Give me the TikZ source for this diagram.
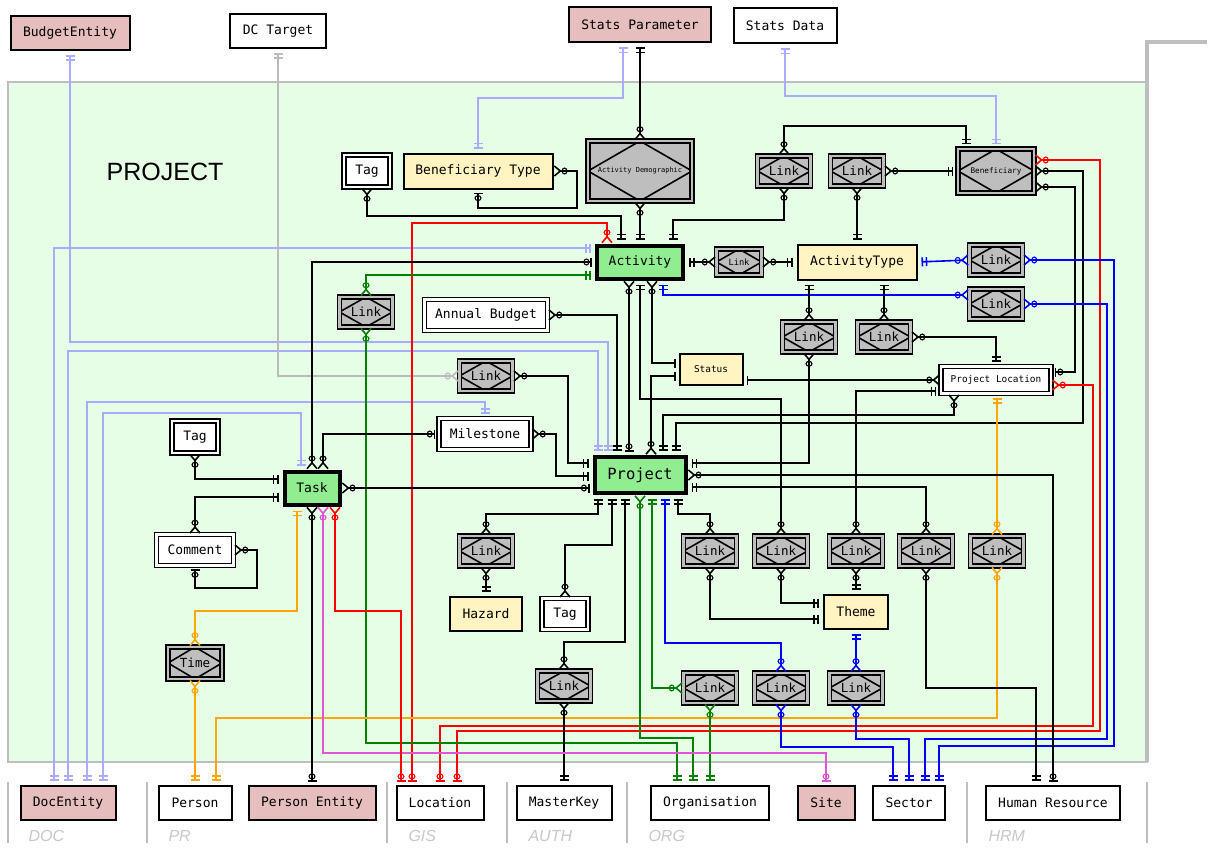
\documentclass[tikz,border=0pt]{standalone}
\usepackage{fontspec}
\setmonofont{DejaVu Sans Mono}
\setsansfont{Liberation Sans}
\usetikzlibrary{arrows.meta, positioning}

\definecolor{framefill}{HTML}{E6FDE6}
\definecolor{framegray}{HTML}{BEBEBE}
\definecolor{pinkfill}{HTML}{E6BEBE}
\definecolor{yellowfill}{HTML}{FFF4C2}
\definecolor{corefill}{HTML}{90EE90}
\definecolor{relgray}{HTML}{BEBEBE}
\definecolor{lavender}{HTML}{AAAAFF}
\definecolor{lightline}{HTML}{BBBBBB}
\definecolor{orangeline}{HTML}{FFA500}
\definecolor{magline}{HTML}{E055D5}
\definecolor{greenline}{HTML}{008000}
\definecolor{labelgray}{HTML}{C8C8C8}

% crow's foot ends: one = ||, sone = |, zone = o|, many = o<
\tikzset{
    oneone/.style={arrows={{Bar[width=9pt,sep=0pt]Bar[width=9pt,sep=2.6pt]}-{Bar[width=9pt,sep=2.6pt]Bar[width=9pt,sep=0pt]}},
        shorten <=4pt, shorten >=4pt},
    onemany/.style={arrows={{Bar[width=9pt,sep=0pt]Bar[width=9pt,sep=2.6pt]}-{Circle[open,length=6pt,width=7pt,line width=1.1pt,sep=0pt]Straight Barb[reversed,length=6pt,width=10pt,sep=0pt]}},
        shorten <=4pt},
    manyone/.style={arrows={{Straight Barb[reversed,length=6pt,width=10pt,sep=0pt]Circle[open,length=6pt,width=7pt,line width=1.1pt,sep=0pt]}-{Bar[width=9pt,sep=2.6pt]Bar[width=9pt,sep=0pt]}},
        shorten >=4pt},
    manyzone/.style={arrows={{Straight Barb[reversed,length=6pt,width=10pt,sep=0pt]Circle[open,length=6pt,width=7pt,line width=1.1pt,sep=0pt]}-{Circle[open,length=6pt,width=7pt,line width=1.1pt,sep=1pt]Bar[width=9pt,sep=0pt]}},
        shorten >=3pt},
    zonemany/.style={arrows={{Bar[width=9pt,sep=0pt]Circle[open,length=6pt,width=7pt,line width=1.1pt,sep=1pt]}-{Circle[open,length=6pt,width=7pt,line width=1.1pt,sep=0pt]Straight Barb[reversed,length=6pt,width=10pt,sep=0pt]}},
        shorten <=3pt},
    manysone/.style={arrows={{Straight Barb[reversed,length=6pt,width=10pt,sep=0pt]Circle[open,length=6pt,width=7pt,line width=1.1pt,sep=0pt]}-{Bar[width=9pt,sep=0pt]}},
        shorten >=3pt},
    sonemany/.style={arrows={{Bar[width=9pt,sep=0pt]}-{Circle[open,length=6pt,width=7pt,line width=1.1pt,sep=0pt]Straight Barb[reversed,length=6pt,width=10pt,sep=0pt]}},
        shorten <=3pt}
}

\begin{document}
\begin{tikzpicture}[x=1pt, y=-1pt,
    ent/.style={draw, line width=2pt, fill=white, minimum height=34pt, inner xsep=4pt, font=\ttfamily\fontsize{13}{15}\selectfont},
    ext/.style={ent, fill=pinkfill},
    lookup/.style={ent, fill=yellowfill},
    core/.style={ent, line width=4pt, fill=corefill},
    weak/.style={ent, line width=1.4pt, double=white, double distance=2.6pt},
    rel/.style={draw, line width=1.4pt, double=relgray, double distance=2.6pt, fill=relgray,
        minimum width=53pt, minimum height=30pt, inner sep=0pt, font=\ttfamily\fontsize{12.5}{14}\selectfont,
        path picture={\draw[line width=1.6pt, fill=relgray] (path picture bounding box.north) -- (path picture bounding box.east)
            -- (path picture bounding box.south) -- (path picture bounding box.west) -- cycle;}},
    grp/.style={anchor=west, text=labelgray, font=\sffamily\itshape\fontsize{16}{18}\selectfont},
    con/.style={line width=1.6pt},
    lav/.style={con, draw=lavender},
    dcl/.style={con, draw=lightline},
    redl/.style={con, draw=red},
    grn/.style={con, draw=greenline},
    blu/.style={con, draw=blue},
    orl/.style={con, draw=orangeline},
    magl/.style={con, draw=magline}
]
\useasboundingbox (0,0) rectangle (1215,851);

% project frame
\draw[framegray, line width=2pt, fill=framefill] (8,82) rectangle (1147,762);
\draw[framegray, line width=4pt] (1207,42) -- (1147,42) -- (1147,762);
\node[font=\sffamily\fontsize{25}{30}\selectfont] (title) at (165,172) {PROJECT};

% module separators
\foreach \sx in {8,147,387,507,627,967,1147}
    \draw[framegray, line width=2pt] (\sx,782) -- (\sx,843);
\node[grp] (gdoc) at (25,836) {DOC};
\node[grp] (gpr) at (165,836) {PR};
\node[grp] (ggis) at (405,836) {GIS};
\node[grp] (gauth) at (525,836) {AUTH};
\node[grp] (gorg) at (645,836) {ORG};
\node[grp] (ghrm) at (985,836) {HRM};

% outside entities
\node[ext, minimum width=119pt] (budget) at (70,33) {BudgetEntity};
\node[ent, minimum width=96pt] (dctarget) at (278,31) {DC Target};
\node[ext, minimum width=142pt, minimum height=35pt] (statspar) at (640,25) {Stats Parameter};
\node[ent, minimum width=103pt, minimum height=35pt] (statsdata) at (785,26) {Stats Data};

\node[ext, minimum width=95pt] (docent) at (68,803) {DocEntity};
\node[ent, minimum width=73pt] (person) at (195,803) {Person};
\node[ext, minimum width=127pt] (personent) at (312,803) {Person Entity};
\node[ent, minimum width=87pt] (location) at (440,803) {Location};
\node[ent, minimum width=95pt] (masterkey) at (564,803) {MasterKey};
\node[ent, minimum width=118pt] (org) at (710,803) {Organisation};
\node[ext, minimum width=57pt] (site) at (826,803) {Site};
\node[ent, minimum width=72pt] (sector) at (909,803) {Sector};
\node[ent, minimum width=134pt] (hr) at (1053,803) {Human Resource};

% project entities
\node[weak, minimum width=46pt, minimum height=32pt] (tagA) at (367,171) {Tag};
\node[lookup, minimum width=149pt, minimum height=35pt] (bentype) at (478,171) {Beneficiary Type};
\node[rel, minimum width=104pt, minimum height=60pt, font=\ttfamily\fontsize{7}{8}\selectfont] (actdemo) at (640,171) {Activity Demographic};
\node[rel] (linkA1) at (784,171) {Link};
\node[rel] (linkA2) at (857,171) {Link};
\node[rel, minimum width=76pt, minimum height=44pt, font=\ttfamily\fontsize{7.7}{9}\selectfont] (benef) at (996,171) {Beneficiary};

\node[core, minimum width=86pt, minimum height=33pt] (act) at (640,262) {Activity};
\node[rel, minimum width=45pt, minimum height=26pt, font=\ttfamily\fontsize{8.7}{10}\selectfont] (linkS) at (739,262) {Link};
\node[lookup, minimum width=119pt, minimum height=35pt] (acttype) at (857,262) {ActivityType};
\node[rel] (linkB1) at (996,260) {Link};
\node[rel] (linkB2) at (996,304) {Link};

\node[rel] (linkG) at (366,312) {Link};
\node[weak, minimum width=123pt, minimum height=31pt] (annual) at (486,315) {Annual Budget};
\node[rel] (linkC1) at (809,337) {Link};
\node[rel] (linkC2) at (884,337) {Link};
\node[lookup, minimum width=63pt, minimum height=31pt, font=\ttfamily\fontsize{9.4}{11}\selectfont] (status) at (711,369) {Status};
\node[rel] (linkDC) at (486,376) {Link};
\node[weak, minimum width=110pt, minimum height=27pt, font=\ttfamily\fontsize{9.4}{11}\selectfont] (ploc) at (996,380) {Project Location};

\node[weak, minimum width=46pt, minimum height=32pt] (tagB) at (195,437) {Tag};
\node[weak, minimum width=92pt, minimum height=31pt] (milestone) at (485,434) {Milestone};
\node[core, minimum width=55pt, minimum height=33pt] (task) at (312,488) {Task};
\node[core, minimum width=91pt, minimum height=36pt, font=\ttfamily\fontsize{15.5}{18}\selectfont] (proj) at (640,475) {Project};
\node[weak, minimum width=77pt, minimum height=31pt] (comment) at (195,550) {Comment};

\node[rel] (linkH) at (486,551) {Link};
\node[lookup, minimum width=72pt] (hazard) at (486,614) {Hazard};
\node[weak, minimum width=46pt, minimum height=31pt] (tagC) at (565,614) {Tag};
\node[rel] (linkP1) at (710,551) {Link};
\node[rel] (linkP2) at (781,551) {Link};
\node[rel] (linkP3) at (856,551) {Link};
\node[rel] (linkP4) at (926,551) {Link};
\node[rel] (linkP5) at (997,551) {Link};
\node[lookup, minimum width=64pt] (theme) at (856,612) {Theme};

\node[rel, minimum width=54pt, minimum height=32pt] (time) at (195,663) {Time};
\node[rel] (linkM) at (564,686) {Link};
\node[rel] (linkQ1) at (710,688) {Link};
\node[rel] (linkQ2) at (781,688) {Link};
\node[rel] (linkQ3) at (856,688) {Link};

% documents
\draw[lav, oneone] (budget.south -| 70,0) -- (70,342) -- (608,342) -- (proj.north -| 608,0);
\draw[lav, oneone] (proj.north -| 598,0) -- (598,351) -- (68,351) -- (docent.north -| 68,0);
\draw[lav, oneone] (act.west |- 0,248) -- (54,248) -- (docent.north -| 54,0);
\draw[lav, oneone] (task.north -| 301,0) -- (301,413) -- (103,413) -- (docent.north -| 103,0);
\draw[lav, oneone] (milestone.north) -- (485,402) -- (87,402) -- (docent.north -| 87,0);
\draw[dcl, onemany] (dctarget.south) -- (278,376) -- (linkDC.west);

% stats
\draw[lav, oneone] (statspar.south -| 623,0) -- (623,98) -- (478,98) -- (bentype.north);
\draw[con, onemany] (statspar.south) -- (actdemo.north);
\draw[lav, oneone] (statsdata.south) -- (785,96) -- (996,96) -- (benef.north);

% activity
\draw[con, manyone] (tagA.south) -- (367,216) -- (621,216) -- (act.north -| 621,0);
\draw[con, zonemany] (bentype.south) -- (478,208) -- (577,208) -- (577,171) -- (bentype.east);
\draw[con, manyone] (actdemo.south) -- (act.north);
\draw[con, manyone] (linkA1.north) -- (784,126) -- (966,126) -- (benef.north -| 966,0);
\draw[con, manyone] (linkA1.south) -- (784,220) -- (673,220) -- (act.north -| 673,0);
\draw[con, manyone] (linkA2.east) -- (benef.west);
\draw[con, manyone] (linkA2.south) -- (acttype.north);
\draw[redl, manyzone] (benef.east |- 0,160) -- (1100,160) -- (1100,731) -- (457,731) -- (location.north -| 457,0);
\draw[con, manyone] (benef.east) -- (1083,171) -- (1083,423) -- (676,423) -- (proj.north -| 676,0);
\draw[con, manyzone] (benef.east |- 0,187) -- (1075,187) -- (1075,372) -- (ploc.east |- 0,372);
\draw[redl, manyzone] (ploc.east |- 0,385) -- (1093,385) -- (1093,726) -- (440,726) -- (location.north);
\draw[redl, manyzone] (act.north -| 607,0) -- (607,223) -- (412,223) -- (location.north -| 412,0);
\draw[con, zonemany] (act.west) -- (312,262) -- (task.north);
\draw[grn, onemany] (act.west |- 0,275) -- (366,275) -- (linkG.north);
\draw[grn, manyone] (linkG.south) -- (366,743) -- (677,743) -- (org.north -| 677,0);
\draw[con, onemany] (act.east) -- (linkS.west);
\draw[con, manyone] (linkS.east) -- (acttype.west);
\draw[con, manyzone] (act.south -| 629,0) -- (proj.north -| 629,0);
\draw[con, onemany] (act.south) -- (640,399) -- (781,399) -- (linkP2.north);
\draw[con, manysone] (act.south -| 652,0) -- (652,363) -- (status.west |- 0,363);
\draw[con, sonemany] (status.west |- 0,376) -- (651,376) -- (proj.north -| 651,0);
\draw[blu, onemany] (act.south -| 663,0) -- (663,295) -- (linkB2.west |- 0,295);
\draw[blu, manyone] (linkB2.east) -- (1107,304) -- (1107,739) -- (925,739) -- (sector.north -| 925,0);
\draw[blu, onemany] (acttype.east) -- (linkB1.west);
\draw[blu, manyone] (linkB1.east) -- (1114,260) -- (1114,746) -- (939,746) -- (sector.north -| 939,0);
\draw[con, onemany] (acttype.south -| 809,0) -- (linkC1.north);
\draw[con, onemany] (acttype.south -| 884,0) -- (linkC2.north);
\draw[con, manyone] (linkC1.south) -- (809,463) -- (proj.east |- 0,463);
\draw[con, manyone] (linkC2.east) -- (996,337) -- (ploc.north);

% project location and status
\draw[con, sonemany] (status.east |- 0,380) -- (ploc.west);
\draw[con, onemany] (ploc.west |- 0,391) -- (856,391) -- (linkP3.north);
\draw[con, manyone] (ploc.south -| 954,0) -- (954,415) -- (663,415) -- (proj.north -| 663,0);
\draw[orl, onemany] (ploc.south -| 997,0) -- (linkP5.north);
\draw[orl, manyone] (linkP5.south) -- (997,718) -- (216,718) -- (person.north -| 216,0);

% project
\draw[con, onemany] (proj.north -| 617,0) -- (617,315) -- (annual.east);
\draw[con, onemany] (proj.west |- 0,463) -- (568,463) -- (568,376) -- (linkDC.east);
\draw[con, onemany] (proj.west |- 0,476) -- (556,476) -- (556,434) -- (milestone.east);
\draw[con, zonemany] (proj.west |- 0,488) -- (task.east);
\draw[con, manyzone] (proj.east) -- (1053,475) -- (hr.north);
\draw[con, onemany] (proj.east |- 0,487) -- (926,487) -- (linkP4.north);
\draw[con, onemany] (proj.south -| 598,0) -- (598,514) -- (486,514) -- (linkH.north);
\draw[con, onemany] (proj.south -| 612,0) -- (612,545) -- (565,545) -- (tagC.north);
\draw[con, onemany] (proj.south -| 625,0) -- (625,642) -- (564,642) -- (linkM.north);
\draw[con, manyone] (linkM.south) -- (masterkey.north);
\draw[grn, manyone] (proj.south -| 640,0) -- (640,738) -- (693,738) -- (org.north -| 693,0);
\draw[grn, onemany] (proj.south -| 652,0) -- (652,688) -- (linkQ1.west);
\draw[grn, manyone] (linkQ1.south) -- (org.north);
\draw[blu, onemany] (proj.south -| 665,0) -- (665,643) -- (781,643) -- (linkQ2.north);
\draw[blu, manyone] (linkQ2.south) -- (781,747) -- (893,747) -- (sector.north -| 893,0);
\draw[con, onemany] (proj.south -| 678,0) -- (678,514) -- (710,514) -- (linkP1.north);
\draw[con, manyone] (linkH.south) -- (hazard.north);
\draw[con, manyone] (linkP1.south) -- (710,619) -- (theme.west |- 0,619);
\draw[con, manyone] (linkP2.south) -- (781,603) -- (theme.west |- 0,603);
\draw[con, manyone] (linkP3.south) -- (theme.north);
\draw[con, manyone] (linkP4.south) -- (926,688) -- (1036,688) -- (hr.north -| 1036,0);
\draw[blu, onemany] (theme.south) -- (linkQ3.north);
\draw[blu, manyone] (linkQ3.south) -- (856,739) -- (909,739) -- (sector.north);

% task
\draw[con, manyzone] (task.north -| 323,0) -- (323,434) -- (milestone.west);
\draw[con, manyone] (tagB.south) -- (195,479) -- (task.west |- 0,479);
\draw[con, manyone] (comment.north) -- (195,497) -- (task.west |- 0,497);
\draw[con, manyzone] (comment.east) -- (257,550) -- (257,588) -- (195,588) -- (comment.south);
\draw[orl, onemany] (task.south -| 297,0) -- (297,611) -- (195,611) -- (time.north);
\draw[orl, manyone] (time.south) -- (person.north);
\draw[con, manyzone] (task.south) -- (personent.north);
\draw[magl, manyzone] (task.south -| 323,0) -- (323,753) -- (826,753) -- (site.north);
\draw[redl, manyzone] (task.south -| 335,0) -- (335,611) -- (401,611) -- (location.north -| 401,0);

\end{tikzpicture}
\end{document}
